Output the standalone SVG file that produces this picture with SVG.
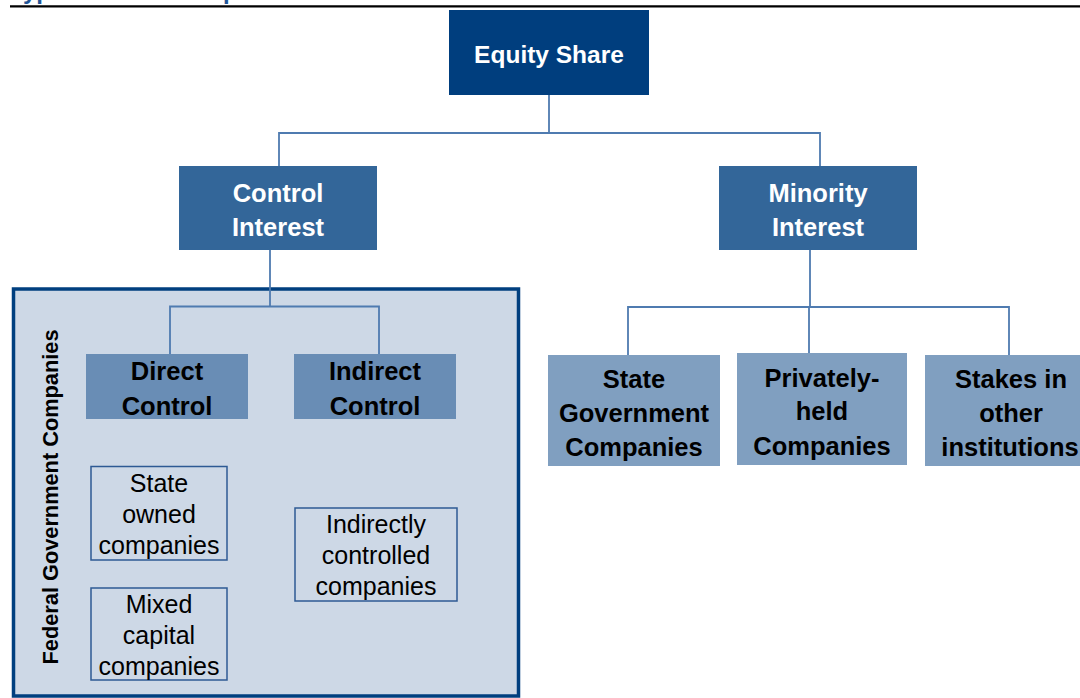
<svg xmlns="http://www.w3.org/2000/svg" width="1080" height="698" viewBox="0 0 1080 698">
  <style>
    .lbl { font-family: "Liberation Sans", Arial, sans-serif; text-anchor: middle; }
    .bold { font-weight: bold; font-size: 25.5px; }
    .top { font-size: 24.5px; }
    .white { fill: #ffffff; }
    .dark { fill: #000000; }
    .reg { font-size: 25px; fill: #000000; }
    .conn { fill: none; stroke: #4f7bb0; stroke-width: 1.8; }
    .sub { fill: #cdd8e6; stroke: #2e5a94; stroke-width: 1.5; }
  </style>

  <rect x="0" y="0" width="1080" height="698" fill="#ffffff"/>

  <!-- page heading (runs off the top edge) and rule -->
  <text x="10" y="-1" font-family="Liberation Sans, Arial, sans-serif" font-weight="bold" font-size="24" fill="#1f5597">Types of Ownership</text>
  <line x1="10" y1="6.3" x2="1080" y2="6.3" stroke="#000000" stroke-width="2.2"/>

  <!-- federal government panel -->
  <g id="federal-panel">
    <rect x="13.5" y="289" width="505" height="407" fill="#cdd8e6" stroke="#003f7f" stroke-width="3.5"/>
    <text class="lbl dark" font-weight="bold" font-size="21.5" textLength="335" lengthAdjust="spacingAndGlyphs" transform="translate(58,497) rotate(-90)">Federal Government Companies</text>
  </g>

  <!-- connectors -->
  <g id="connectors">
    <path class="conn" d="M549 95 V133 M279 166 V133 H820 V166"/>
    <path class="conn" d="M270 250 V306.5 M170 354 V306.5 H379 V354"/>
    <path class="conn" d="M810 250 V307 M628 355 V307 H1009 V355 M809 307 V353"/>
  </g>

  <g id="equity-share">
    <rect x="449" y="10" width="200" height="85" fill="#003e7e"/>
    <text class="lbl bold top white" x="549" y="63">Equity Share</text>
  </g>

  <g id="control-interest">
    <rect x="179" y="166" width="198" height="84" fill="#336699"/>
    <text class="lbl bold white" x="278" y="202">Control</text>
    <text class="lbl bold white" x="278" y="236">Interest</text>
  </g>

  <g id="minority-interest">
    <rect x="719" y="166" width="198" height="84" fill="#336699"/>
    <text class="lbl bold white" x="818" y="202">Minority</text>
    <text class="lbl bold white" x="818" y="236">Interest</text>
  </g>

  <g id="direct-control">
    <rect x="86" y="354" width="162" height="65" fill="#698db5"/>
    <text class="lbl bold dark" x="167" y="380">Direct</text>
    <text class="lbl bold dark" x="167" y="415">Control</text>
  </g>

  <g id="indirect-control">
    <rect x="294" y="354" width="162" height="65" fill="#698db5"/>
    <text class="lbl bold dark" x="375" y="380">Indirect</text>
    <text class="lbl bold dark" x="375" y="415">Control</text>
  </g>

  <g id="state-owned">
    <rect class="sub" x="91" y="466.5" width="136" height="93.5"/>
    <text class="lbl reg" x="159" y="491.5">State</text>
    <text class="lbl reg" x="159" y="522.5">owned</text>
    <text class="lbl reg" x="159" y="553.5">companies</text>
  </g>

  <g id="mixed-capital">
    <rect class="sub" x="91" y="588" width="136" height="92"/>
    <text class="lbl reg" x="159" y="612.5">Mixed</text>
    <text class="lbl reg" x="159" y="643.5">capital</text>
    <text class="lbl reg" x="159" y="674.5">companies</text>
  </g>

  <g id="indirectly-controlled">
    <rect class="sub" x="295" y="508" width="162" height="93"/>
    <text class="lbl reg" x="376" y="532.5">Indirectly</text>
    <text class="lbl reg" x="376" y="563.5">controlled</text>
    <text class="lbl reg" x="376" y="594.5">companies</text>
  </g>

  <g id="state-government">
    <rect x="548" y="355" width="172" height="111" fill="#809fc0"/>
    <text class="lbl bold dark" x="634" y="387.5">State</text>
    <text class="lbl bold dark" x="634" y="421.5">Government</text>
    <text class="lbl bold dark" x="634" y="455.5">Companies</text>
  </g>

  <g id="privately-held">
    <rect x="737" y="353" width="170" height="112" fill="#809fc0"/>
    <text class="lbl bold dark" x="822" y="386.5">Privately-</text>
    <text class="lbl bold dark" x="822" y="420">held</text>
    <text class="lbl bold dark" x="822" y="454.5">Companies</text>
  </g>

  <g id="other-institutions">
    <rect x="925" y="355" width="155" height="111" fill="#809fc0"/>
    <text class="lbl bold dark" x="1011" y="387.5">Stakes in</text>
    <text class="lbl bold dark" x="1011" y="421.5">other</text>
    <text class="lbl bold dark" x="1010" y="455.5">institutions</text>
  </g>
</svg>
